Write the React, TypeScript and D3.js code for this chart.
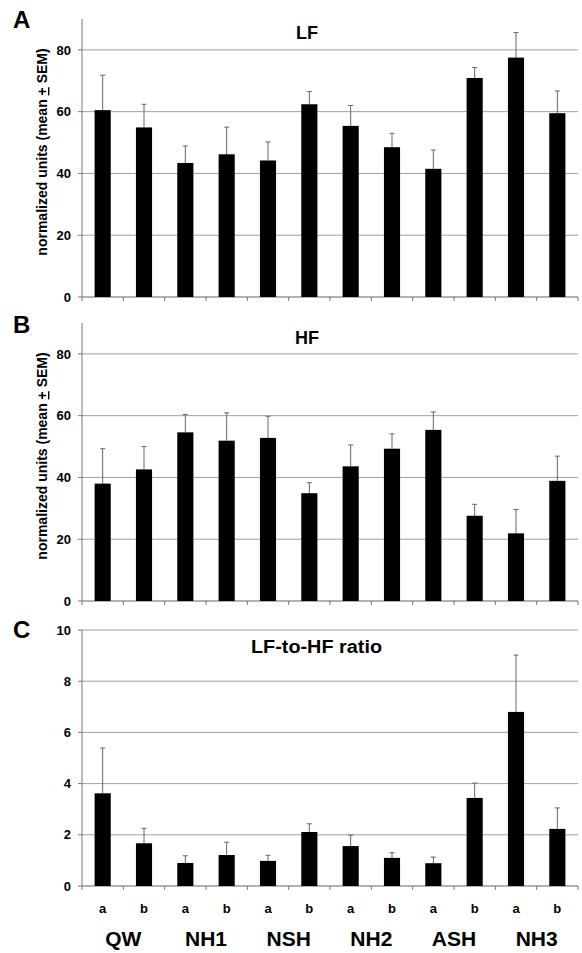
import React from 'react';
import * as d3 from 'd3';

// groups and conditions along the x axis
const groups = ['QW', 'NH1', 'NSH', 'NH2', 'ASH', 'NH3'];
const conditions = ['a', 'b'];

// panel A: LF, normalized units
const lfMean = [60.5, 54.9, 43.4, 46.2, 44.2, 62.4, 55.4, 48.5, 41.5, 70.9, 77.5, 59.5];
const lfTop = [71.8, 62.4, 48.9, 55.0, 50.2, 66.5, 62.0, 53.0, 47.6, 74.3, 85.6, 66.7];

// panel B: HF, normalized units
const hfMean = [38.0, 42.6, 54.6, 51.9, 52.8, 34.9, 43.6, 49.3, 55.4, 27.6, 21.9, 38.9];
const hfTop = [49.3, 50.0, 60.4, 60.9, 59.8, 38.3, 50.5, 54.1, 61.2, 31.3, 29.6, 46.9];

// panel C: LF-to-HF ratio
const ratioMean = [3.62, 1.67, 0.9, 1.21, 0.98, 2.11, 1.56, 1.1, 0.89, 3.44, 6.8, 2.23];
const ratioTop = [5.39, 2.25, 1.18, 1.71, 1.2, 2.43, 1.99, 1.3, 1.13, 4.02, 9.02, 3.05];

const unitTicks = [0, 20, 40, 60, 80];
const ratioTicks = [0, 2, 4, 6, 8, 10];

const W = 582;
const H = 953;
const left = 82;
const right = 578;
const font = 'Arial, "Liberation Sans", sans-serif';

const bars = groups.flatMap(g => conditions.map(c => `${g}-${c}`));
const xScale = d3.scaleBand<string>().domain(bars).range([left, right]).paddingInner(0.61).paddingOuter(0.305);

type PanelProps = {
  letter: string;
  title: string;
  titleWidth?: number;
  means: number[];
  tops: number[];
  ticks: number[];
  yMax: number;
  top: number;
  bottom: number;
  titleY: number;
  letterY: number;
  yLabel?: boolean;
};

function Panel({ letter, title, titleWidth, means, tops, ticks, yMax, top, bottom, titleY, letterY, yLabel }: PanelProps) {
  const y = d3.scaleLinear().domain([0, yMax]).range([bottom, top]);
  const bw = xScale.bandwidth();
  const step = xScale.step();
  return (
    <g>
      <text x={13} y={letterY} fontSize={24} fontWeight="bold" fontFamily={font}>{letter}</text>
      <text x={titleWidth ? 251 : 307} y={titleY} fontSize={18} fontWeight="bold"
        textAnchor={titleWidth ? 'start' : 'middle'} fontFamily={font}
        textLength={titleWidth} lengthAdjust="spacingAndGlyphs">{title}</text>

      {/* gridlines */}
      {ticks.filter(t => t > 0).map(t => (
        <line key={t} x1={left} x2={right} y1={y(t)} y2={y(t)} stroke="#a0a0a0" strokeWidth={1} />
      ))}

      {/* y axis */}
      <line x1={left} x2={left} y1={y(yMax)} y2={bottom} stroke="#777" strokeWidth={1} />
      {ticks.map(t => (
        <g key={t}>
          <line x1={left - 4} x2={left} y1={y(t)} y2={y(t)} stroke="#777" />
          <text x={71} y={y(t)} dy="0.36em" textAnchor="end" fontSize={13} fontWeight="bold" fontFamily={font}>{t}</text>
        </g>
      ))}

      {/* x axis */}
      <line x1={left} x2={right} y1={bottom} y2={bottom} stroke="#666" strokeWidth={1.2} />
      {d3.range(bars.length + 1).map(i => (
        <line key={i} x1={left + i * step} x2={left + i * step} y1={bottom} y2={bottom + 4} stroke="#777" />
      ))}

      {/* error bars */}
      {bars.map((b, i) => {
        const cx = (xScale(b) ?? 0) + bw / 2;
        return (
          <g key={b} stroke="#666" strokeWidth={1}>
            <line x1={cx} x2={cx} y1={y(means[i])} y2={y(tops[i])} />
            <line x1={cx - 2.5} x2={cx + 2.5} y1={y(tops[i])} y2={y(tops[i])} />
          </g>
        );
      })}

      {/* bars */}
      {bars.map((b, i) => (
        <rect key={b} x={xScale(b)} y={y(means[i])} width={bw} height={bottom - y(means[i])} fill="#000" />
      ))}

      {yLabel && (
        <text
          transform={`translate(47, ${(top + bottom) / 2 - 6}) rotate(-90)`}
          textAnchor="middle"
          fontSize={14}
          fontWeight="bold"
          fontFamily={font}
        >
          normalized units (mean <tspan textDecoration="underline">+</tspan> SEM)
        </text>
      )}
    </g>
  );
}

export default function App() {
  const step = xScale.step();
  return (
    <svg width={W} height={H} style={{ position: 'absolute', left: 0, top: 0, background: '#fff' }}>
      <Panel letter="A" title="LF" means={lfMean} tops={lfTop} ticks={unitTicks} yMax={90}
        top={19} bottom={297} titleY={39} letterY={28} yLabel />
      <Panel letter="B" title="HF" means={hfMean} tops={hfTop} ticks={unitTicks} yMax={90}
        top={323} bottom={601} titleY={344} letterY={333} yLabel />
      <Panel letter="C" title="LF-to-HF ratio" titleWidth={131} means={ratioMean} tops={ratioTop}
        ticks={ratioTicks} yMax={10} top={630} bottom={886} titleY={653} letterY={638} />

      {/* condition labels */}
      {bars.map((b, i) => (
        <text key={b} x={(xScale(b) ?? 0) + xScale.bandwidth() / 2} y={913} textAnchor="middle"
          fontSize={13} fontWeight="bold" fontFamily={font}>{conditions[i % 2]}</text>
      ))}
      {/* group labels */}
      {groups.map((g, i) => (
        <text key={g} x={left + (2 * i + 1) * step} y={946} textAnchor="middle"
          fontSize={21} fontWeight="bold" fontFamily={font}>{g}</text>
      ))}
    </svg>
  );
}
